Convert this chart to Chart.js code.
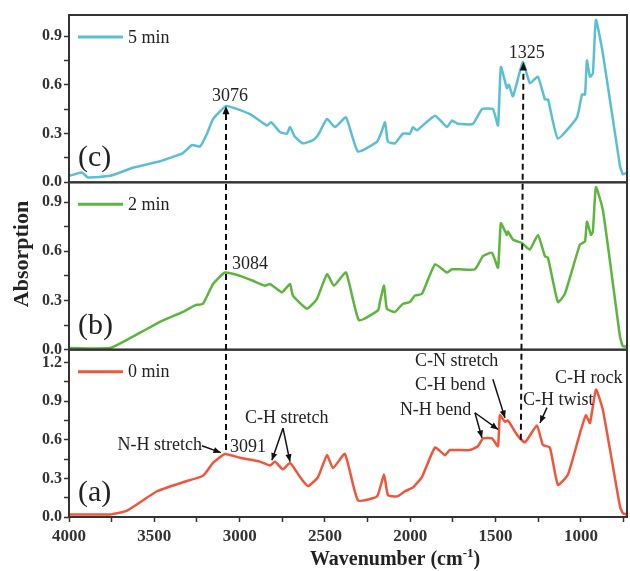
<!DOCTYPE html>
<html lang="en">
<head>
<meta charset="UTF-8">
<title>FTIR spectra at 0, 2 and 5 min</title>
<script src="https://cdn.jsdelivr.net/npm/chart.js"></script>
<style>
  html, body { margin: 0; padding: 0; background: #fff; }
  canvas { display: block; }
</style>
</head>
<body>
<canvas id="irChart" width="630" height="571"></canvas>
<script>
// wavenumbers (cm-1) and absorption
const wn5 = [4000, 3924, 3889, 3760, 3625, 3467, 3332, 3279, 3232, 3191, 3156, 3080, 3039, 2939, 2840, 2816, 2764, 2723, 2705, 2676,
  2629, 2570, 2541, 2488, 2441, 2377, 2307, 2195, 2172, 2148, 2131, 2090, 2043, 2002, 1984, 1961, 1855, 1785, 1756, 1721,
  1633, 1580, 1516, 1486, 1469, 1434, 1422, 1398, 1340, 1299, 1252, 1211, 1193, 1135, 1023, 994, 976, 965, 947, 930,
  912, 871, 771, 754, 730];
const abs5 = [0.04, 0.06, 0.03, 0.04, 0.09, 0.13, 0.18, 0.23, 0.22, 0.30, 0.39, 0.47, 0.46, 0.42, 0.35, 0.37, 0.31, 0.30, 0.34, 0.28,
  0.24, 0.26, 0.29, 0.39, 0.34, 0.40, 0.19, 0.25, 0.30, 0.37, 0.25, 0.24, 0.30, 0.30, 0.34, 0.32, 0.41, 0.34, 0.38, 0.36,
  0.36, 0.45, 0.45, 0.35, 0.71, 0.58, 0.60, 0.53, 0.74, 0.61, 0.65, 0.51, 0.51, 0.27, 0.40, 0.54, 0.54, 0.75, 0.65, 0.67,
  1.00, 0.79, 0.10, 0.05, 0.06];

const wn2 = [4000, 3760, 3660, 3467, 3332, 3262, 3215, 3156, 3086, 2998, 2922, 2852, 2822, 2752, 2705, 2688, 2605, 2547, 2488, 2447,
  2377, 2301, 2189, 2178, 2154, 2137, 2090, 2043, 2002, 1973, 1932, 1855, 1785, 1756, 1709, 1621, 1574, 1521, 1486, 1469,
  1434, 1428, 1398, 1346, 1299, 1252, 1211, 1193, 1135, 1094, 1006, 976, 965, 941, 930, 912, 871, 771, 754, 730];
const abs2 = [0.01, 0.01, 0.06, 0.17, 0.23, 0.27, 0.28, 0.40, 0.47, 0.45, 0.42, 0.39, 0.40, 0.35, 0.40, 0.33, 0.25, 0.31, 0.46, 0.39,
  0.47, 0.18, 0.24, 0.29, 0.39, 0.25, 0.23, 0.28, 0.29, 0.33, 0.34, 0.52, 0.47, 0.49, 0.49, 0.49, 0.57, 0.59, 0.50, 0.77,
  0.70, 0.72, 0.67, 0.65, 0.61, 0.70, 0.57, 0.56, 0.29, 0.34, 0.64, 0.66, 0.78, 0.70, 0.72, 0.99, 0.85, 0.08, 0.02, 0.02];

const wn0 = [4000, 3760, 3660, 3484, 3332, 3215, 3156, 3086, 2998, 2881, 2822, 2793, 2746, 2705, 2646, 2600, 2541, 2488, 2453, 2383,
  2307, 2195, 2154, 2131, 2078, 2031, 1984, 1932, 1855, 1797, 1768, 1650, 1604, 1574, 1521, 1486, 1475, 1445, 1428, 1375,
  1328, 1258, 1223, 1182, 1135, 1076, 1006, 971, 947, 912, 871, 771, 754, 730];
const abs0 = [0.02, 0.02, 0.05, 0.20, 0.27, 0.32, 0.42, 0.49, 0.46, 0.43, 0.40, 0.43, 0.37, 0.42, 0.31, 0.24, 0.31, 0.48, 0.38, 0.49,
  0.13, 0.16, 0.33, 0.17, 0.16, 0.20, 0.23, 0.31, 0.54, 0.48, 0.52, 0.52, 0.55, 0.61, 0.61, 0.55, 0.79, 0.74, 0.75, 0.64,
  0.58, 0.71, 0.56, 0.54, 0.25, 0.33, 0.65, 0.79, 0.73, 0.99, 0.83, 0.08, 0.03, 0.02];

const seriesNames = ['5 min', '2 min', '0 min'];
const panelLetters = ['(c)', '(b)', '(a)'];
const panelMax = [1.03, 1.02, 1.3];
// x ticks every 250, labelled every 500
const xTickValues = [4000, 3750, 3500, 3250, 3000, 2750, 2500, 2250, 2000, 1750, 1500, 1250, 1000, 750];

// peak labels and band assignments: [text, panel axis, wavenumber, absorption, align]
const peakLabels = [
  ['3076', 'yC', 3057, 0.50, 'center'],
  ['1325', 'yC', 1317, 0.765, 'center'],
  ['3084', 'yB', 3045, 0.49, 'left'],
  ['3091', 'yA', 3057, 0.505, 'left'],
  ['N-H stretch', 'yA', 3221, 0.52, 'right'],
  ['C-H stretch', 'yA', 2969, 0.73, 'left'],
  ['C-N stretch', 'yA', 1973, 1.17, 'left'],
  ['C-H bend', 'yA', 1973, 0.99, 'left'],
  ['N-H bend', 'yA', 2061, 0.795, 'left'],
  ['C-H twist', 'yA', 1340, 0.873, 'left'],
  ['C-H rock', 'yA', 1152, 1.044, 'left']
];
// arrows in panel (a): [from wn, from abs, to wn, to abs]
const bandArrows = [
  [3221, 0.553, 3110, 0.50],
  [2746, 0.69, 2811, 0.44],
  [2746, 0.69, 2705, 0.43],
  [1516, 1.07, 1445, 0.77],
  [1621, 0.81, 1580, 0.615],
  [1621, 0.81, 1486, 0.68],
  [1199, 0.85, 1240, 0.73]
];
// dashed guides from panel (a) up to panel (c): [wn in a, abs in a, wn in c, abs in c]
const guides = [
  [3080, 0.52, 3080, 0.47],
  [1352, 0.60, 1337, 0.74]
];

const serif = '"Liberation Serif", "Times New Roman", serif';
const colors = ['#5bbfd4', '#5cb53d', '#ef563b'];

function toPoints(xs, ys) {
  return xs.map((x, i) => ({ x: x, y: ys[i] }));
}

function yLabel(v) {
  const k = Math.round(v / 0.15);
  return k % 2 === 0 ? (k * 0.15).toFixed(1) : '';
}

function xLabel(v) {
  const r = Math.round(v);
  return r % 500 === 0 ? String(r) : '';
}

function panelAxis(max) {
  return {
    type: 'linear',
    position: 'left',
    stack: 'panels',
    stackWeight: 1,
    min: 0,
    max: max,
    border: { display: false },
    grid: { drawOnChartArea: false, drawTicks: true, tickLength: 5, tickColor: '#333', tickWidth: 1.5 },
    ticks: {
      stepSize: 0.15,
      includeBounds: false,
      autoSkip: false,
      padding: 2,
      color: '#333',
      font: { family: serif, size: 16, weight: 'bold' },
      callback: yLabel
    },
    afterFit: s => { s.width = 69; }
  };
}

function arrowHead(ctx, x1, y1, x2, y2, size) {
  const a = Math.atan2(y2 - y1, x2 - x1);
  ctx.beginPath();
  ctx.moveTo(x2, y2);
  ctx.lineTo(x2 - size * Math.cos(a - 0.4), y2 - size * Math.sin(a - 0.4));
  ctx.lineTo(x2 - size * Math.cos(a + 0.4), y2 - size * Math.sin(a + 0.4));
  ctx.closePath();
  ctx.fill();
}

const panelDecor = {
  id: 'panelDecor',
  afterDraw(chart) {
    const ctx = chart.ctx;
    const area = chart.chartArea;
    const xs = chart.scales.x;
    const axes = ['yC', 'yB', 'yA'].map(id => chart.scales[id]);
    ctx.save();

    // panel frames
    ctx.strokeStyle = '#333';
    ctx.lineWidth = 2;
    axes.forEach(s => ctx.strokeRect(area.left, s.top, area.right - area.left, s.bottom - s.top));

    // legends and panel letters
    axes.forEach((s, i) => {
      const ly = s.top + 22;
      ctx.strokeStyle = colors[i];
      ctx.lineWidth = 3;
      ctx.beginPath();
      ctx.moveTo(area.left + 9, ly);
      ctx.lineTo(area.left + 54, ly);
      ctx.stroke();
      ctx.fillStyle = '#222';
      ctx.font = '18px ' + serif;
      ctx.textAlign = 'left';
      ctx.textBaseline = 'middle';
      ctx.fillText(seriesNames[i], area.left + 59, ly + 1);
      ctx.font = '30px ' + serif;
      ctx.fillText(panelLetters[i], area.left + 9, s.bottom - 24);
    });

    // dashed guide lines with arrow at top
    const yA = chart.scales.yA, yC = chart.scales.yC;
    ctx.strokeStyle = '#111';
    ctx.fillStyle = '#111';
    ctx.lineWidth = 2;
    guides.forEach(g => {
      const x1 = xs.getPixelForValue(g[0]), y1 = yA.getPixelForValue(g[1]);
      const x2 = xs.getPixelForValue(g[2]), y2 = yC.getPixelForValue(g[3]);
      ctx.setLineDash([6, 4]);
      ctx.beginPath();
      ctx.moveTo(x1, y1);
      ctx.lineTo(x2, y2 + 6);
      ctx.stroke();
      ctx.setLineDash([]);
      arrowHead(ctx, x1, y1, x2, y2, 9);
    });

    // band arrows
    ctx.lineWidth = 1.5;
    bandArrows.forEach(a => {
      const x1 = xs.getPixelForValue(a[0]), y1 = yA.getPixelForValue(a[1]);
      const x2 = xs.getPixelForValue(a[2]), y2 = yA.getPixelForValue(a[3]);
      ctx.beginPath();
      ctx.moveTo(x1, y1);
      ctx.lineTo(x2, y2);
      ctx.stroke();
      arrowHead(ctx, x1, y1, x2, y2, 8);
    });

    // peak and band labels
    ctx.fillStyle = '#222';
    ctx.font = '18px ' + serif;
    ctx.textBaseline = 'alphabetic';
    peakLabels.forEach(p => {
      ctx.textAlign = p[4];
      ctx.fillText(p[0], xs.getPixelForValue(p[2]), chart.scales[p[1]].getPixelForValue(p[3]));
    });

    // axis titles
    ctx.font = 'bold 22px ' + serif;
    ctx.textAlign = 'center';
    ctx.textBaseline = 'middle';
    ctx.save();
    ctx.translate(22, 254);
    ctx.rotate(-Math.PI / 2);
    ctx.fillText('Absorption', 0, 0);
    ctx.restore();

    const main = 'Wavenumber (cm';
    const sup = '-1';
    ctx.font = 'bold 20px ' + serif;
    const w1 = ctx.measureText(main).width;
    const w3 = ctx.measureText(')').width;
    ctx.font = 'bold 13px ' + serif;
    const w2 = ctx.measureText(sup).width;
    let tx = 395 - (w1 + w2 + w3) / 2;
    const ty = 565;
    ctx.textAlign = 'left';
    ctx.textBaseline = 'alphabetic';
    ctx.font = 'bold 20px ' + serif;
    ctx.fillText(main, tx, ty);
    tx += w1;
    ctx.font = 'bold 13px ' + serif;
    ctx.fillText(sup, tx, ty - 8);
    tx += w2;
    ctx.font = 'bold 20px ' + serif;
    ctx.fillText(')', tx, ty);

    ctx.restore();
  }
};

const ctx = document.getElementById('irChart').getContext('2d');
const irChart = new Chart(ctx, {
  type: 'line',
  data: {
    datasets: [
      { label: seriesNames[0], data: toPoints(wn5, abs5), yAxisID: 'yC', borderColor: colors[0] },
      { label: seriesNames[1], data: toPoints(wn2, abs2), yAxisID: 'yB', borderColor: colors[1] },
      { label: seriesNames[2], data: toPoints(wn0, abs0), yAxisID: 'yA', borderColor: colors[2] }
    ]
  },
  options: {
    responsive: false,
    animation: false,
    layout: { padding: { top: 15, right: 3, left: 0, bottom: 0 } },
    elements: {
      line: { borderWidth: 2.5, tension: 0.15, fill: false },
      point: { radius: 0 }
    },
    plugins: { legend: { display: false }, tooltip: { enabled: false } },
    scales: {
      x: {
        type: 'linear',
        reverse: true,
        min: 730,
        max: 4000,
        border: { display: false },
        grid: { drawOnChartArea: false, drawTicks: true, tickLength: 5, tickColor: '#333', tickWidth: 1.5 },
        ticks: {
          autoSkip: false,
          maxRotation: 0,
          padding: 4,
          color: '#333',
          font: { family: serif, size: 17, weight: 'bold' },
          callback: xLabel
        },
        afterBuildTicks: s => { s.ticks = xTickValues.map(v => ({ value: v })); },
        afterFit: s => { s.height = 54; }
      },
      // stacked panels are placed bottom-up
      yA: panelAxis(panelMax[2]),
      yB: panelAxis(panelMax[1]),
      yC: panelAxis(panelMax[0])
    }
  },
  plugins: [panelDecor]
});
</script>
</body>
</html>
